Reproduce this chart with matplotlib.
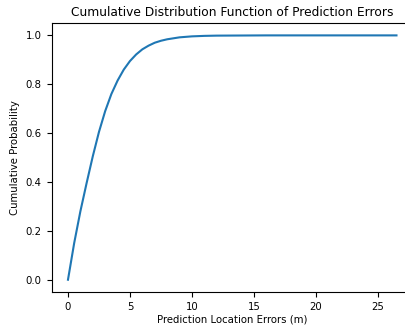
import matplotlib
matplotlib.use("Agg")
import matplotlib.pyplot as plt

errors = [0, 0.5, 1, 1.5, 2, 2.5, 3, 3.5, 4, 4.5, 5, 5.5, 6, 6.5, 7, 7.5, 8, 9, 10, 11, 12, 14, 16, 18, 20, 22, 24, 26.5]
cdf = [0, 0.15, 0.28, 0.395, 0.505, 0.605, 0.69, 0.76, 0.815, 0.86, 0.895, 0.922, 0.943, 0.958, 0.970, 0.978, 0.984, 0.992, 0.996, 0.998, 0.999, 0.9995, 1.0, 1.0, 1.0, 1.0, 1.0, 1.0]

fig = plt.figure(figsize=(4.06, 3.31), dpi=100)
ax = fig.add_axes([0.127, 0.118, 0.89, 0.812])
ax.plot(errors, cdf, color="#1f77b4", linewidth=1.5)
ax.set_title("Cumulative Distribution Function of Prediction Errors", fontsize=8.8, pad=5)
ax.set_xlabel("Prediction Location Errors (m)", fontsize=7.3, labelpad=2)
ax.set_ylabel("Cumulative Probability", fontsize=7.3)
ax.tick_params(labelsize=7.3)
ax.set_xticks([0, 5, 10, 15, 20, 25])
ax.set_yticks([0.0, 0.2, 0.4, 0.6, 0.8, 1.0])
fig.savefig("out.png", dpi=100)
